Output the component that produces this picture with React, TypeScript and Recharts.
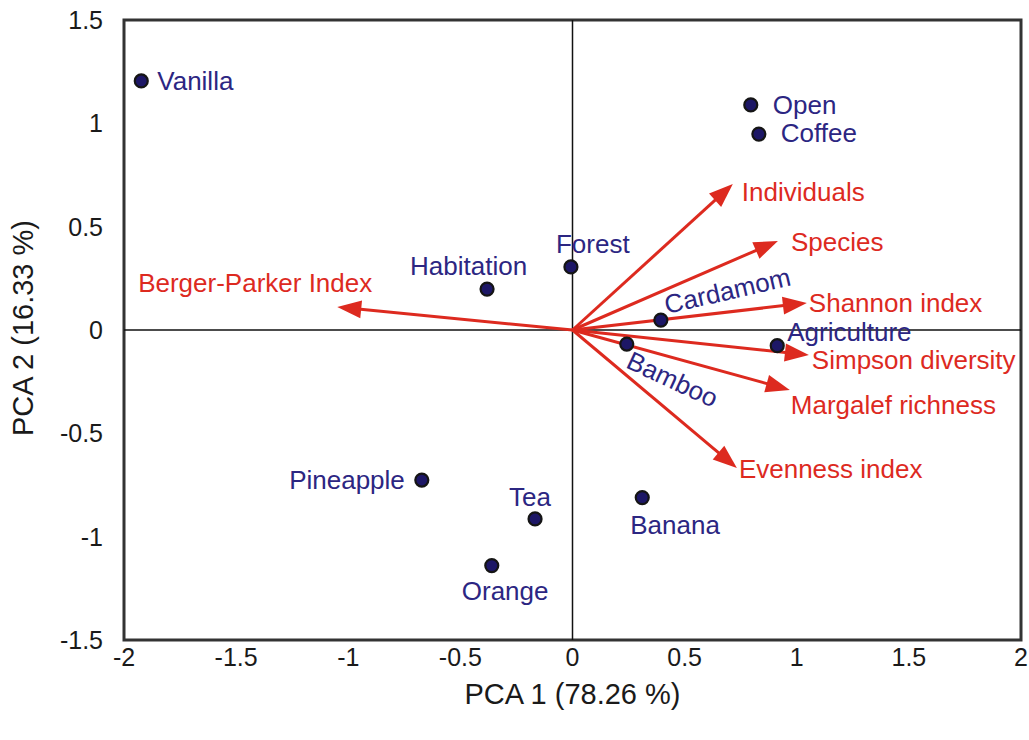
import {
    ScatterChart,
    Scatter,
    XAxis,
    YAxis,
    ReferenceLine,
    ReferenceArea,
    Label
} from "recharts";

const FONT = "'Liberation Sans', Arial, sans-serif";
const RED = "#dd2a1f";
const NAVY = "#2c2682";

// land-use sites (PCA scores)
const sites = ["Vanilla", "Open", "Coffee", "Forest", "Habitation", "Cardamom", "Bamboo", "Agriculture", "Pineapple", "Tea", "Orange", "Banana"];
const siteX = [-1.923, 0.795, 0.831, -0.007, -0.381, 0.394, 0.242, 0.913, -0.672, -0.167, -0.36, 0.311];
const siteY = [1.205, 1.089, 0.948, 0.305, 0.198, 0.048, -0.068, -0.076, -0.726, -0.914, -1.14, -0.811];

// diversity index loadings (arrows)
const indices = ["Individuals", "Species", "Shannon index", "Simpson diversity", "Margalef richness", "Evenness index", "Berger-Parker Index"];
const indexX = [0.715, 0.916, 1.045, 1.054, 0.969, 0.733, -1.049];
const indexY = [0.706, 0.431, 0.131, -0.121, -0.29, -0.668, 0.111];

const xTicks = [-2, -1.5, -1, -0.5, 0, 0.5, 1, 1.5, 2];
const yTicks = [-1.5, -1, -0.5, 0, 0.5, 1, 1.5];

const siteData = sites.map((name, i) => ({ name, x: siteX[i], y: siteY[i] }));

type Pos = { dx: number; dy: number; anchor?: "start" | "middle" | "end"; rot?: number };

const siteLabelPos: Record<string, Pos> = {
    Vanilla: { dx: 16, dy: 9 },
    Open: { dx: 22, dy: 9 },
    Coffee: { dx: 22, dy: 8 },
    Forest: { dx: -15, dy: -14 },
    Habitation: { dx: -77, dy: -14 },
    Cardamom: { dx: 6, dy: -6, rot: -13 },
    Bamboo: { dx: -2, dy: 23, rot: 25 },
    Agriculture: { dx: 10, dy: -5 },
    Pineapple: { dx: -17, dy: 9, anchor: "end" },
    Tea: { dx: -5, dy: -13, anchor: "middle" },
    Orange: { dx: -30, dy: 34 },
    Banana: { dx: -12, dy: 36 },
};

const indexLabelPos: Record<string, Pos> = {
    "Individuals": { dx: 9, dy: 17 },
    "Species": { dx: 13, dy: 10 },
    "Shannon index": { dx: 2, dy: 9 },
    "Simpson diversity": { dx: 3, dy: 14 },
    "Margalef richness": { dx: 1, dy: 24 },
    "Evenness index": { dx: 2, dy: 10 },
    "Berger-Parker Index": { dx: 35, dy: -15, anchor: "end" },
};

const SiteDot = (p: any) => {
    const { cx, cy, payload } = p;
    const l = siteLabelPos[payload.name];
    const tx = cx + l.dx;
    const ty = cy + l.dy;
    return (
        <g>
            <circle cx={cx} cy={cy} r={6.5} fill="#1d1766" stroke="#151515" strokeWidth={2.2} />
            <text
                x={tx}
                y={ty}
                fill={NAVY}
                fontSize={26}
                textAnchor={l.anchor || "start"}
                transform={l.rot ? `rotate(${l.rot} ${tx} ${ty})` : undefined}
            >
                {payload.name}
            </text>
        </g>
    );
};

const arrowShape = (name: string) => (p: any) => {
    const { x1, y1, x2, y2 } = p;
    const ang = Math.atan2(y2 - y1, x2 - x1);
    const len = 24;
    const half = 9;
    const c = Math.cos(ang);
    const s = Math.sin(ang);
    const bx = x2 - len * c;
    const by = y2 - len * s;
    const l = indexLabelPos[name];
    return (
        <g>
            <line x1={x1} y1={y1} x2={bx + 3 * c} y2={by + 3 * s} stroke={RED} strokeWidth={3} />
            <polygon
                points={`${x2},${y2} ${bx - s * half},${by + c * half} ${bx + s * half},${by - c * half}`}
                fill={RED}
            />
            <text x={x2 + l.dx} y={y2 + l.dy} fill={RED} fontSize={26} textAnchor={l.anchor || "start"}>
                {name}
            </text>
        </g>
    );
};

export default function PcaBiplot() {
    return (
        <div style={{ position: "absolute", left: 0, top: 0, fontFamily: FONT, background: "#fff" }}>
            <ScatterChart width={1029} height={740} margin={{ top: 20, right: 8, bottom: 0, left: 0 }}>
                <XAxis
                    type="number"
                    dataKey="x"
                    domain={[-2, 2]}
                    ticks={xTicks}
                    height={100}
                    tickLine={false}
                    axisLine={false}
                    tickSize={0}
                    tickMargin={8}
                    tick={{ fill: "#1a1a1a", fontSize: 25 }}
                    label={{ value: "PCA 1 (78.26 %)", position: "insideBottom", offset: 36, fontSize: 29, fill: "#1a1a1a" }}
                />
                <YAxis
                    type="number"
                    dataKey="y"
                    domain={[-1.5, 1.5]}
                    ticks={yTicks}
                    width={124}
                    tickLine={false}
                    axisLine={false}
                    tickSize={0}
                    tickMargin={21}
                    tick={{ fill: "#1a1a1a", fontSize: 25 }}
                    label={
                        <Label
                            content={() => (
                                <text
                                    x={33}
                                    y={328}
                                    fontSize={29}
                                    fill="#1a1a1a"
                                    textAnchor="middle"
                                    transform="rotate(-90 33 328)"
                                >
                                    PCA 2 (16.33 %)
                                </text>
                            )}
                        />
                    }
                />
                <ReferenceArea x1={-2} x2={2} y1={-1.5} y2={1.5} fill="none" fillOpacity={0} stroke="#333" strokeWidth={3} />
                <ReferenceLine x={0} stroke="#111" strokeWidth={1.5} />
                <ReferenceLine y={0} stroke="#111" strokeWidth={1.5} />
                {indices.map((name, i) => (
                    <ReferenceLine
                        key={name}
                        segment={[{ x: 0, y: 0 }, { x: indexX[i], y: indexY[i] }]}
                        shape={arrowShape(name)}
                    />
                ))}
                <Scatter data={siteData} shape={SiteDot} isAnimationActive={false} />
            </ScatterChart>
        </div>
    );
}
